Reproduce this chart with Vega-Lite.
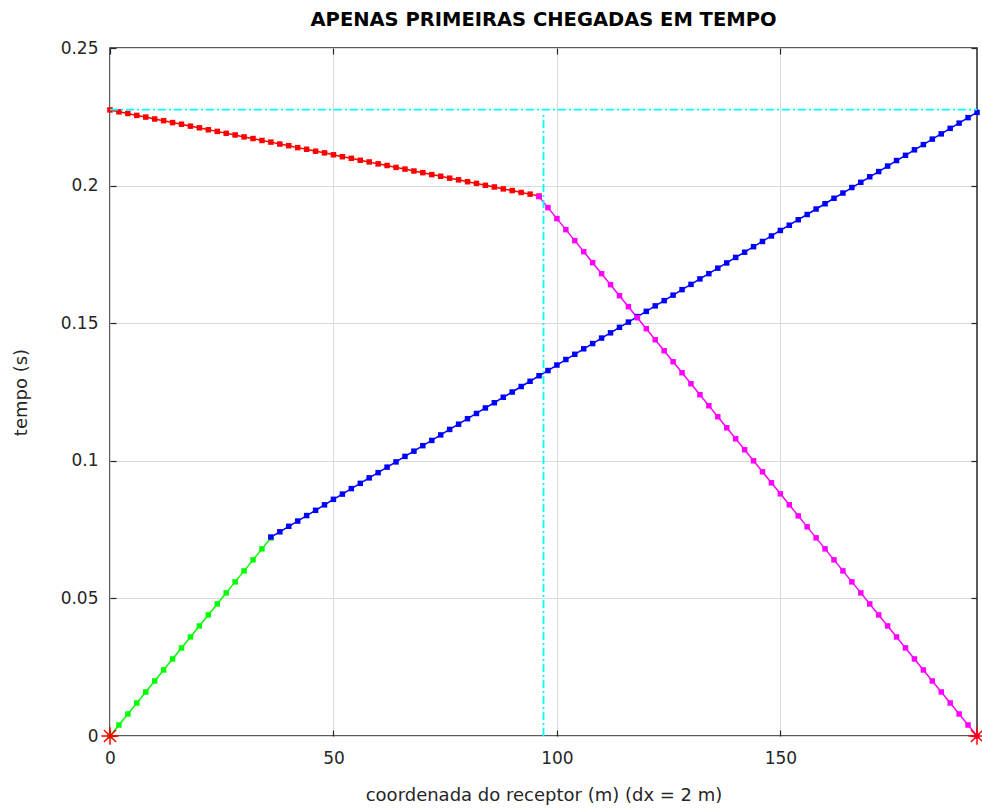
{
  "$schema": "https://vega.github.io/schema/vega-lite/v6.json",
  "width": 867,
  "height": 688,
  "autosize": {"type": "none"},
  "padding": {"left": 110, "top": 48, "right": 5, "bottom": 75},
  "background": "white",
  "title": {"text": "APENAS PRIMEIRAS CHEGADAS EM TEMPO", "font": "DejaVu Sans", "fontSize": 19.5, "fontWeight": "bold", "color": "#000000", "offset": 9},
  "config": {
    "view": {"stroke": "#262626", "strokeWidth": 1.5},
    "axis": {"labelFont": "DejaVu Sans", "titleFont": "DejaVu Sans", "labelFontSize": 17, "titleFontSize": 18, "labelColor": "#262626", "titleColor": "#262626", "titleFontWeight": "normal", "gridColor": "#dadada", "gridWidth": 1, "domain": false, "tickColor": "#262626", "tickSize": -6, "tickWidth": 1.2}
  },
  "datasets": {
    "pts": [
      {"x": 0, "t": 0, "s": "g"}, {"x": 2, "t": 0.004, "s": "g"}, {"x": 4, "t": 0.008, "s": "g"}, {"x": 6, "t": 0.012, "s": "g"}, {"x": 8, "t": 0.016, "s": "g"}, {"x": 10, "t": 0.02, "s": "g"}, {"x": 12, "t": 0.024, "s": "g"}, {"x": 14, "t": 0.028, "s": "g"}, {"x": 16, "t": 0.032, "s": "g"}, {"x": 18, "t": 0.036, "s": "g"}, {"x": 20, "t": 0.04, "s": "g"}, {"x": 22, "t": 0.044, "s": "g"}, {"x": 24, "t": 0.048, "s": "g"}, {"x": 26, "t": 0.052, "s": "g"}, {"x": 28, "t": 0.056, "s": "g"}, {"x": 30, "t": 0.06, "s": "g"}, {"x": 32, "t": 0.064, "s": "g"}, {"x": 34, "t": 0.068, "s": "g"}, {"x": 36, "t": 0.072, "s": "g"},
      {"x": 36, "t": 0.0723, "s": "b"}, {"x": 38, "t": 0.0742, "s": "b"}, {"x": 40, "t": 0.0762, "s": "b"}, {"x": 42, "t": 0.0781, "s": "b"}, {"x": 44, "t": 0.0801, "s": "b"}, {"x": 46, "t": 0.082, "s": "b"}, {"x": 48, "t": 0.084, "s": "b"}, {"x": 50, "t": 0.086, "s": "b"}, {"x": 52, "t": 0.0879, "s": "b"}, {"x": 54, "t": 0.0899, "s": "b"}, {"x": 56, "t": 0.0918, "s": "b"}, {"x": 58, "t": 0.0938, "s": "b"}, {"x": 60, "t": 0.0957, "s": "b"}, {"x": 62, "t": 0.0977, "s": "b"}, {"x": 64, "t": 0.0996, "s": "b"}, {"x": 66, "t": 0.1016, "s": "b"}, {"x": 68, "t": 0.1035, "s": "b"}, {"x": 70, "t": 0.1055, "s": "b"}, {"x": 72, "t": 0.1074, "s": "b"}, {"x": 74, "t": 0.1094, "s": "b"}, {"x": 76, "t": 0.1114, "s": "b"}, {"x": 78, "t": 0.1133, "s": "b"}, {"x": 80, "t": 0.1153, "s": "b"}, {"x": 82, "t": 0.1172, "s": "b"}, {"x": 84, "t": 0.1192, "s": "b"}, {"x": 86, "t": 0.1211, "s": "b"}, {"x": 88, "t": 0.1231, "s": "b"}, {"x": 90, "t": 0.125, "s": "b"}, {"x": 92, "t": 0.127, "s": "b"}, {"x": 94, "t": 0.1289, "s": "b"}, {"x": 96, "t": 0.1309, "s": "b"}, {"x": 98, "t": 0.1328, "s": "b"}, {"x": 100, "t": 0.1348, "s": "b"}, {"x": 102, "t": 0.1368, "s": "b"}, {"x": 104, "t": 0.1387, "s": "b"}, {"x": 106, "t": 0.1407, "s": "b"}, {"x": 108, "t": 0.1426, "s": "b"}, {"x": 110, "t": 0.1446, "s": "b"}, {"x": 112, "t": 0.1465, "s": "b"}, {"x": 114, "t": 0.1485, "s": "b"}, {"x": 116, "t": 0.1504, "s": "b"}, {"x": 118, "t": 0.1524, "s": "b"}, {"x": 120, "t": 0.1543, "s": "b"}, {"x": 122, "t": 0.1563, "s": "b"}, {"x": 124, "t": 0.1582, "s": "b"}, {"x": 126, "t": 0.1602, "s": "b"}, {"x": 128, "t": 0.1622, "s": "b"}, {"x": 130, "t": 0.1641, "s": "b"}, {"x": 132, "t": 0.1661, "s": "b"}, {"x": 134, "t": 0.168, "s": "b"}, {"x": 136, "t": 0.17, "s": "b"}, {"x": 138, "t": 0.1719, "s": "b"}, {"x": 140, "t": 0.1739, "s": "b"}, {"x": 142, "t": 0.1758, "s": "b"}, {"x": 144, "t": 0.1778, "s": "b"}, {"x": 146, "t": 0.1797, "s": "b"}, {"x": 148, "t": 0.1817, "s": "b"}, {"x": 150, "t": 0.1837, "s": "b"}, {"x": 152, "t": 0.1856, "s": "b"}, {"x": 154, "t": 0.1876, "s": "b"}, {"x": 156, "t": 0.1895, "s": "b"}, {"x": 158, "t": 0.1915, "s": "b"}, {"x": 160, "t": 0.1934, "s": "b"}, {"x": 162, "t": 0.1954, "s": "b"}, {"x": 164, "t": 0.1973, "s": "b"}, {"x": 166, "t": 0.1993, "s": "b"}, {"x": 168, "t": 0.2012, "s": "b"}, {"x": 170, "t": 0.2032, "s": "b"}, {"x": 172, "t": 0.2051, "s": "b"}, {"x": 174, "t": 0.2071, "s": "b"}, {"x": 176, "t": 0.2091, "s": "b"}, {"x": 178, "t": 0.211, "s": "b"}, {"x": 180, "t": 0.213, "s": "b"}, {"x": 182, "t": 0.2149, "s": "b"}, {"x": 184, "t": 0.2169, "s": "b"}, {"x": 186, "t": 0.2188, "s": "b"}, {"x": 188, "t": 0.2208, "s": "b"}, {"x": 190, "t": 0.2227, "s": "b"}, {"x": 192, "t": 0.2247, "s": "b"}, {"x": 194, "t": 0.2266, "s": "b"},
      {"x": 0, "t": 0.2275, "s": "r"}, {"x": 2, "t": 0.2268, "s": "r"}, {"x": 4, "t": 0.2262, "s": "r"}, {"x": 6, "t": 0.2255, "s": "r"}, {"x": 8, "t": 0.2249, "s": "r"}, {"x": 10, "t": 0.2242, "s": "r"}, {"x": 12, "t": 0.2236, "s": "r"}, {"x": 14, "t": 0.2229, "s": "r"}, {"x": 16, "t": 0.2223, "s": "r"}, {"x": 18, "t": 0.2216, "s": "r"}, {"x": 20, "t": 0.221, "s": "r"}, {"x": 22, "t": 0.2203, "s": "r"}, {"x": 24, "t": 0.2197, "s": "r"}, {"x": 26, "t": 0.219, "s": "r"}, {"x": 28, "t": 0.2184, "s": "r"}, {"x": 30, "t": 0.2177, "s": "r"}, {"x": 32, "t": 0.2171, "s": "r"}, {"x": 34, "t": 0.2164, "s": "r"}, {"x": 36, "t": 0.2158, "s": "r"}, {"x": 38, "t": 0.2151, "s": "r"}, {"x": 40, "t": 0.2145, "s": "r"}, {"x": 42, "t": 0.2138, "s": "r"}, {"x": 44, "t": 0.2132, "s": "r"}, {"x": 46, "t": 0.2125, "s": "r"}, {"x": 48, "t": 0.2119, "s": "r"}, {"x": 50, "t": 0.2112, "s": "r"}, {"x": 52, "t": 0.2105, "s": "r"}, {"x": 54, "t": 0.2099, "s": "r"}, {"x": 56, "t": 0.2092, "s": "r"}, {"x": 58, "t": 0.2086, "s": "r"}, {"x": 60, "t": 0.2079, "s": "r"}, {"x": 62, "t": 0.2073, "s": "r"}, {"x": 64, "t": 0.2066, "s": "r"}, {"x": 66, "t": 0.206, "s": "r"}, {"x": 68, "t": 0.2053, "s": "r"}, {"x": 70, "t": 0.2047, "s": "r"}, {"x": 72, "t": 0.204, "s": "r"}, {"x": 74, "t": 0.2034, "s": "r"}, {"x": 76, "t": 0.2027, "s": "r"}, {"x": 78, "t": 0.2021, "s": "r"}, {"x": 80, "t": 0.2014, "s": "r"}, {"x": 82, "t": 0.2008, "s": "r"}, {"x": 84, "t": 0.2001, "s": "r"}, {"x": 86, "t": 0.1995, "s": "r"}, {"x": 88, "t": 0.1988, "s": "r"}, {"x": 90, "t": 0.1982, "s": "r"}, {"x": 92, "t": 0.1975, "s": "r"}, {"x": 94, "t": 0.1969, "s": "r"}, {"x": 96, "t": 0.1962, "s": "r"},
      {"x": 96, "t": 0.196, "s": "m"}, {"x": 98, "t": 0.192, "s": "m"}, {"x": 100, "t": 0.188, "s": "m"}, {"x": 102, "t": 0.184, "s": "m"}, {"x": 104, "t": 0.18, "s": "m"}, {"x": 106, "t": 0.176, "s": "m"}, {"x": 108, "t": 0.172, "s": "m"}, {"x": 110, "t": 0.168, "s": "m"}, {"x": 112, "t": 0.164, "s": "m"}, {"x": 114, "t": 0.16, "s": "m"}, {"x": 116, "t": 0.156, "s": "m"}, {"x": 118, "t": 0.152, "s": "m"}, {"x": 120, "t": 0.148, "s": "m"}, {"x": 122, "t": 0.144, "s": "m"}, {"x": 124, "t": 0.14, "s": "m"}, {"x": 126, "t": 0.136, "s": "m"}, {"x": 128, "t": 0.132, "s": "m"}, {"x": 130, "t": 0.128, "s": "m"}, {"x": 132, "t": 0.124, "s": "m"}, {"x": 134, "t": 0.12, "s": "m"}, {"x": 136, "t": 0.116, "s": "m"}, {"x": 138, "t": 0.112, "s": "m"}, {"x": 140, "t": 0.108, "s": "m"}, {"x": 142, "t": 0.104, "s": "m"}, {"x": 144, "t": 0.1, "s": "m"}, {"x": 146, "t": 0.096, "s": "m"}, {"x": 148, "t": 0.092, "s": "m"}, {"x": 150, "t": 0.088, "s": "m"}, {"x": 152, "t": 0.084, "s": "m"}, {"x": 154, "t": 0.08, "s": "m"}, {"x": 156, "t": 0.076, "s": "m"}, {"x": 158, "t": 0.072, "s": "m"}, {"x": 160, "t": 0.068, "s": "m"}, {"x": 162, "t": 0.064, "s": "m"}, {"x": 164, "t": 0.06, "s": "m"}, {"x": 166, "t": 0.056, "s": "m"}, {"x": 168, "t": 0.052, "s": "m"}, {"x": 170, "t": 0.048, "s": "m"}, {"x": 172, "t": 0.044, "s": "m"}, {"x": 174, "t": 0.04, "s": "m"}, {"x": 176, "t": 0.036, "s": "m"}, {"x": 178, "t": 0.032, "s": "m"}, {"x": 180, "t": 0.028, "s": "m"}, {"x": 182, "t": 0.024, "s": "m"}, {"x": 184, "t": 0.02, "s": "m"}, {"x": 186, "t": 0.016, "s": "m"}, {"x": 188, "t": 0.012, "s": "m"}, {"x": 190, "t": 0.008, "s": "m"}, {"x": 192, "t": 0.004, "s": "m"}, {"x": 194, "t": 0, "s": "m"}
    ],
    "refs": [
      {"x1": 0, "x2": 194, "y1": 0.2276, "y2": 0.2276},
      {"x1": 97, "x2": 97, "y1": 0, "y2": 0.2257}
    ],
    "src": [
      {"x": 0, "t": 0},
      {"x": 194, "t": 0}
    ]
  },
  "layer": [
    {
      "data": {"name": "pts"},
      "mark": {"type": "line", "strokeWidth": 1.5, "point": {"filled": true, "size": 30, "shape": "square"}, "clip": false},
      "encoding": {
        "x": {"field": "x", "type": "quantitative", "scale": {"domain": [0, 194], "nice": false, "zero": false},
          "axis": {"orient": "bottom", "values": [0, 50, 100, 150], "title": "coordenada do receptor (m)  (dx = 2 m)", "grid": true, "labelPadding": 20, "titleY": 59, "titleBaseline": "middle", "labelFlush": false}},
        "y": {"field": "t", "type": "quantitative", "scale": {"domain": [0, 0.25], "nice": false},
          "axis": {"orient": "left", "values": [0, 0.05, 0.1, 0.15, 0.2, 0.25], "format": "~g", "title": "tempo (s)", "grid": true, "labelPadding": 18, "titleX": -89, "titleBaseline": "middle", "labelFlush": false}},
        "color": {"field": "s", "type": "nominal", "legend": null, "scale": {"domain": ["g", "b", "r", "m"], "range": ["#00ff00", "#0000ff", "#ff0000", "#ff00ff"]}},
        "detail": {"field": "s"}
      }
    },
    {
      "data": {"name": "refs"},
      "mark": {"type": "rule", "color": "#00ffff", "strokeWidth": 1.8, "strokeDash": [8, 3, 2, 3]},
      "encoding": {
        "x": {"field": "x1", "type": "quantitative", "axis": {"orient": "top", "values": [0, 50, 100, 150], "labels": false, "title": null, "grid": false}},
        "x2": {"field": "x2"},
        "y": {"field": "y1", "type": "quantitative", "axis": {"orient": "right", "values": [0, 0.05, 0.1, 0.15, 0.2, 0.25], "labels": false, "title": null, "grid": false}},
        "y2": {"field": "y2"}
      }
    },
    {
      "data": {"name": "src"},
      "mark": {"type": "point", "shape": "M0,-1L0,1M-1,0L1,0M-0.7,-0.7L0.7,0.7M-0.7,0.7L0.7,-0.7", "filled": false, "color": "#ff0000", "size": 300, "strokeWidth": 1.5, "opacity": 1, "clip": false},
      "encoding": {
        "x": {"field": "x", "type": "quantitative", "axis": null},
        "y": {"field": "t", "type": "quantitative", "axis": null}
      }
    }
  ],
  "resolve": {"axis": {"x": "independent", "y": "independent"}}
}
